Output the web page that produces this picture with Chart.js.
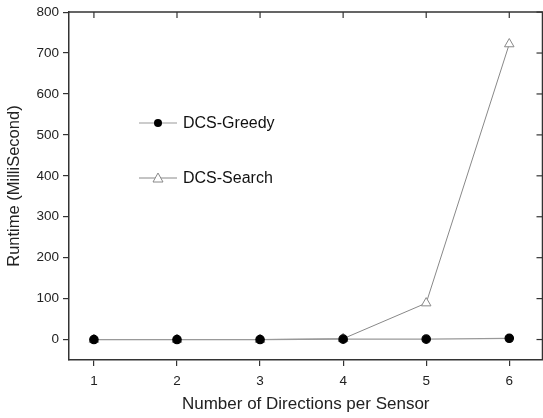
<!DOCTYPE html>
<html>
<head>
<meta charset="utf-8">
<script src="https://cdn.jsdelivr.net/npm/chart.js@4/dist/chart.umd.min.js"></script>
<style>
  html, body { margin: 0; padding: 0; background: #fff; overflow: hidden; }
  #wrap { width: 549px; height: 418px; }
</style>
</head>
<body>
<div id="wrap"><canvas id="runtimeChart" width="549" height="418"></canvas></div>
<script>
// data
const directions = [1, 2, 3, 4, 5, 6];
const greedyRuntime = [0, 0, 0, 1, 1, 3];
const searchRuntime = [0, 0, 0, 2, 89, 722];
const yTicks = [0, 100, 200, 300, 400, 500, 600, 700, 800];

const axisColor = '#333';
const font = 'Liberation Sans, Arial, sans-serif';

// top/right frame with inward ticks + legend inside the plot
const framePlugin = {
    id: 'frame',
    afterDraw(chart) {
        const ctx = chart.ctx;
        const a = chart.chartArea;
        const x = chart.scales.x, y = chart.scales.y;
        ctx.save();
        ctx.strokeStyle = axisColor;
        ctx.lineWidth = 1.5;
        ctx.beginPath();
        ctx.moveTo(a.left, a.top); ctx.lineTo(a.right, a.top); ctx.lineTo(a.right, a.bottom);
        ctx.stroke();
        ctx.lineWidth = 1.2;
        directions.forEach(v => {
            const px = x.getPixelForValue(v);
            ctx.beginPath(); ctx.moveTo(px, a.top); ctx.lineTo(px, a.top + 6); ctx.stroke();
        });
        yTicks.forEach(v => {
            const py = y.getPixelForValue(v);
            ctx.beginPath(); ctx.moveTo(a.right, py); ctx.lineTo(a.right - 6, py); ctx.stroke();
        });

        // legend
        const rows = [123, 178];
        chart.data.datasets.forEach((ds, i) => {
            const ry = rows[i];
            ctx.strokeStyle = ds.borderColor;
            ctx.lineWidth = 1;
            ctx.beginPath(); ctx.moveTo(139, ry); ctx.lineTo(177, ry); ctx.stroke();
            if (i === 0) {
                ctx.fillStyle = '#000';
                ctx.beginPath(); ctx.arc(158, ry, 4, 0, Math.PI * 2); ctx.fill();
            } else {
                ctx.fillStyle = '#fff';
                ctx.beginPath();
                ctx.moveTo(158, ry - 5); ctx.lineTo(163, ry + 4); ctx.lineTo(153, ry + 4); ctx.closePath();
                ctx.fill(); ctx.stroke();
            }
            ctx.fillStyle = '#111';
            ctx.font = '16px ' + font;
            ctx.textBaseline = 'middle';
            ctx.fillText(ds.label, 183, ry + 1);
        });
        ctx.restore();
    }
};

new Chart(document.getElementById('runtimeChart'), {
    type: 'line',
    data: {
        labels: directions,
        datasets: [{
            label: 'DCS-Greedy',
            data: directions.map((d, i) => ({ x: d, y: greedyRuntime[i] })),
            borderColor: '#999',
            borderWidth: 1.2,
            pointStyle: 'circle',
            pointRadius: 4.2,
            pointBackgroundColor: '#000',
            pointBorderColor: '#000',
            tension: 0
        }, {
            label: 'DCS-Search',
            data: directions.map((d, i) => ({ x: d, y: searchRuntime[i] })),
            borderColor: '#888',
            borderWidth: 1,
            pointStyle: 'triangle',
            pointRadius: 5.5,
            pointBackgroundColor: '#fff',
            pointBorderColor: '#888',
            pointBorderWidth: 1,
            tension: 0
        }]
    },
    options: {
        responsive: false,
        animation: false,
        layout: { padding: { top: 10, right: 4, left: 0, bottom: 0 } },
        plugins: { legend: { display: false }, tooltip: { enabled: false } },
        scales: {
            x: {
                type: 'linear',
                min: 0.7,
                max: 6.4,
                afterBuildTicks: s => { s.ticks = directions.map(v => ({ value: v })); },
                afterFit: s => { s.height = 58; },
                border: { color: axisColor, width: 1.5 },
                grid: { drawOnChartArea: false, drawTicks: true, tickLength: 6, color: axisColor, lineWidth: 1.2 },
                ticks: { color: '#222', font: { family: font, size: 13.5 }, padding: 7 },
                title: { display: true, text: 'Number of Directions per Sensor', color: '#222', font: { family: font, size: 17 }, padding: { top: 4, bottom: 3 } }
            },
            y: {
                min: -50,
                max: 800,
                afterBuildTicks: s => { s.ticks = yTicks.map(v => ({ value: v })); },
                afterFit: s => { s.width = 69; },
                border: { color: axisColor, width: 1.5 },
                grid: { drawOnChartArea: false, drawTicks: true, tickLength: 6, color: axisColor, lineWidth: 1.2 },
                ticks: { color: '#222', font: { family: font, size: 13.5 }, padding: 4 },
                title: { display: true, text: 'Runtime (MilliSecond)', color: '#222', font: { family: font, size: 16.5 }, padding: { top: 5, bottom: 2 } }
            }
        }
    },
    plugins: [framePlugin]
});
</script>
</body>
</html>
